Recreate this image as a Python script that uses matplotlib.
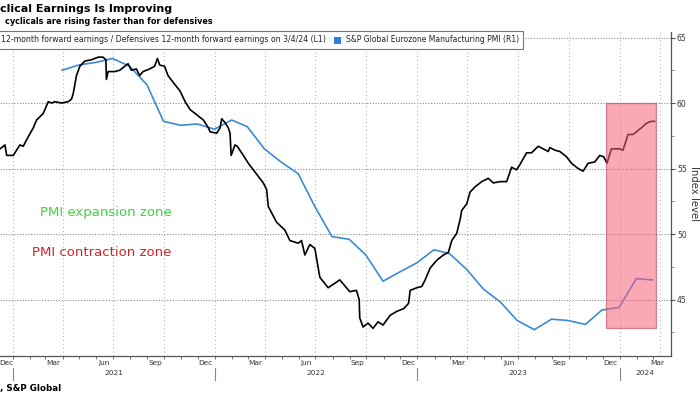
import matplotlib
matplotlib.use("Agg")
import matplotlib.pyplot as plt
import matplotlib.dates as mdates
import matplotlib.transforms as mtrans
from matplotlib.patches import Rectangle
import pandas as pd

plt.rcParams['font.family'] = ['DejaVu Sans']

######## Data
# cyclicals / defensives 12m fwd earnings (L1) in right-axis units
ratio_dates = [
    '2020-12-09', '2020-12-18', '2020-12-21', '2021-01-02', '2021-01-14', '2021-01-20',
    '2021-01-26', '2021-02-07', '2021-02-13', '2021-02-25', '2021-03-06', '2021-03-12',
    '2021-03-18', '2021-03-30', '2021-04-11', '2021-04-17', '2021-04-20', '2021-04-26',
    '2021-05-02', '2021-05-11', '2021-05-23', '2021-06-04', '2021-06-13', '2021-06-18',
    '2021-06-19', '2021-06-22', '2021-07-04', '2021-07-13', '2021-07-22', '2021-07-28',
    '2021-08-03', '2021-08-12', '2021-08-18', '2021-08-24', '2021-09-05', '2021-09-14',
    '2021-09-19', '2021-09-23', '2021-10-02', '2021-10-08', '2021-10-17', '2021-10-30',
    '2021-11-08', '2021-11-17', '2021-11-29', '2021-12-11', '2021-12-20', '2021-12-23',
    '2022-01-04', '2022-01-10', '2022-01-13', '2022-01-19', '2022-01-25', '2022-01-28',
    '2022-01-30', '2022-02-06', '2022-02-10', '2022-02-21', '2022-03-02', '2022-03-11',
    '2022-03-20', '2022-03-29', '2022-04-04', '2022-04-07', '2022-04-22', '2022-05-07',
    '2022-05-16', '2022-05-31', '2022-06-06', '2022-06-12', '2022-06-21', '2022-06-30',
    '2022-07-09', '2022-07-24', '2022-08-14', '2022-08-26', '2022-09-01', '2022-09-13',
    '2022-09-18', '2022-09-19', '2022-09-25', '2022-10-04', '2022-10-13', '2022-10-22',
    '2022-10-31', '2022-11-13', '2022-11-25', '2022-12-07', '2022-12-16', '2022-12-19',
    '2022-12-31', '2023-01-09', '2023-01-15', '2023-01-24', '2023-02-05', '2023-02-17',
    '2023-02-26', '2023-03-04', '2023-03-13', '2023-03-19', '2023-03-22', '2023-03-31',
    '2023-04-06', '2023-04-15', '2023-04-27', '2023-05-09', '2023-05-18', '2023-05-30',
    '2023-06-11', '2023-06-20', '2023-06-29', '2023-07-05', '2023-07-17', '2023-07-26',
    '2023-08-07', '2023-08-16', '2023-08-25', '2023-08-28', '2023-09-06', '2023-09-15',
    '2023-09-27', '2023-10-06', '2023-10-18', '2023-10-27', '2023-11-05', '2023-11-17',
    '2023-11-26', '2023-12-03', '2023-12-09', '2023-12-17', '2024-01-01', '2024-01-07',
    '2024-01-16', '2024-01-25', '2024-01-31', '2024-02-09', '2024-02-18', '2024-02-27',
    '2024-03-04',
]
ratio_vals = [
    56.5, 56.8, 56.0, 56.0, 56.8, 56.7,
    57.2, 58.1, 58.7, 59.2, 60.1, 60.0,
    60.1, 60.0, 60.1, 60.3, 60.7, 62.1,
    62.8, 63.2, 63.3, 63.5, 63.5, 63.3,
    61.8, 62.4, 62.4, 62.5, 62.8, 63.0,
    62.5, 62.6, 62.1, 62.4, 62.6, 62.8,
    63.4, 62.9, 62.8, 62.1, 61.6, 60.9,
    60.1, 59.5, 59.1, 58.7, 58.1, 57.8,
    57.7, 58.1, 58.8, 58.5, 58.1, 57.7,
    56.0, 56.8, 56.7, 56.0, 55.4, 54.9,
    54.4, 53.9, 53.4, 52.1, 50.9, 50.3,
    49.5, 49.3, 49.5, 48.4, 49.2, 48.9,
    46.7, 45.9, 46.5, 45.9, 45.6, 45.7,
    45.0, 43.6, 42.9, 43.2, 42.8, 43.3,
    43.05, 43.8, 44.1, 44.3, 44.7, 45.7,
    45.9, 46.0, 46.5, 47.4, 48.0, 48.4,
    48.6, 49.5, 50.05, 51.1, 51.8, 52.3,
    53.2, 53.6, 54.0, 54.25, 53.9, 54.0,
    54.0, 55.1, 54.9, 55.3, 56.2, 56.2,
    56.7, 56.5, 56.3, 56.6, 56.4, 56.3,
    55.9, 55.4, 55.0, 54.8, 55.4, 55.5,
    56.0, 55.9, 55.4, 56.5, 56.5, 56.4,
    57.6, 57.6, 57.8, 58.1, 58.45, 58.6,
    58.6,
]

# S&P Global Eurozone Manufacturing PMI (R1), month ends Mar 2021 - Feb 2024
pmi_dates = pd.date_range('2021-03-31', periods=36, freq='ME')
pmi_vals = [
    62.5, 62.9, 63.1, 63.4, 62.8, 61.4, 58.6, 58.3, 58.4, 58.0,
    58.7, 58.2, 56.5, 55.5, 54.6, 52.1, 49.8, 49.6, 48.4, 46.4, 47.1, 47.8,
    48.8, 48.5, 47.3, 45.8, 44.8, 43.4, 42.7, 43.5, 43.4, 43.1, 44.2, 44.4,
    46.6, 46.5,
]

month_labels = ['Dec', 'Mar', 'Jun', 'Sep', 'Dec', 'Mar', 'Jun', 'Sep',
                'Dec', 'Mar', 'Jun', 'Sep', 'Dec', 'Mar']
month_label_dates = ['2020-12-21', '2021-03-15', '2021-06-15', '2021-09-15',
                     '2021-12-15', '2022-03-15', '2022-06-15', '2022-09-15',
                     '2022-12-15', '2023-03-15', '2023-06-15', '2023-09-15',
                     '2023-12-15', '2024-03-08']
year_labels = ['2021', '2022', '2023', '2024']
year_label_dates = ['2021-07-02', '2022-07-02', '2023-07-02', '2024-02-16']
year_breaks = ['2021-01-01', '2022-01-01', '2023-01-01', '2024-01-01']

hl_start, hl_end = '2023-12-08', '2024-03-07'
hl_low, hl_high = 42.85, 60

######## Plot
fig = plt.figure(figsize=(7, 3.94), dpi=100)
ax = fig.add_axes([0, 38 / 394, 670.7 / 700, 324 / 394])
ax.set_xlim(pd.Timestamp('2020-12-09'), pd.Timestamp('2024-04-02'))
ax.set_ylim(40.69, 65.42)

for s in ['top', 'left']:
    ax.spines[s].set_visible(False)
for s in ['right', 'bottom']:
    ax.spines[s].set_color('#555555')
    ax.spines[s].set_linewidth(0.9)

# grid
for v in [45, 50, 55, 60, 65]:
    ax.axhline(v, color='#8a8a8a', lw=0.8, ls=(0, (1, 1.5)), zorder=1)
vgrid = list(pd.date_range('2021-01-01', '2024-01-01', freq='QS')) + [pd.Timestamp('2024-03-14')]
for d in vgrid:
    ax.axvline(d, color='#a8a8a8', lw=0.7, ls=(0, (1, 3)), zorder=1)

ax.plot(pmi_dates, pmi_vals, color='#3b8bd4', lw=1.2, zorder=3)
ax.plot(pd.to_datetime(ratio_dates), ratio_vals, color='black', lw=1.2, zorder=3)

x0 = mdates.date2num(pd.Timestamp(hl_start))
x1 = mdates.date2num(pd.Timestamp(hl_end))
ax.add_patch(Rectangle((x0, hl_low), x1 - x0, hl_high - hl_low, facecolor='#f7607a',
                       edgecolor='#b03a4a', alpha=0.55, lw=0.9, zorder=4))

# right axis
ax.yaxis.tick_right()
ax.set_yticks([45, 50, 55, 60, 65])
ax.set_yticks([42.5, 47.5, 52.5, 57.5, 62.5], minor=True)
ax.tick_params(axis='y', which='major', length=3, width=0.8, color='#555555',
               labelsize=5.5, labelcolor='#333333', pad=1.5)
ax.tick_params(axis='y', which='minor', length=2, width=0.6, color='#777777')

# bottom axis
ax.set_xticks(pd.to_datetime(month_label_dates))
ax.set_xticklabels(month_labels)
ax.set_xticks(pd.date_range('2021-01-01', '2024-03-01', freq='MS'), minor=True)
ax.tick_params(axis='x', which='major', length=0, labelsize=5.3, labelcolor='#333333', pad=3)
ax.tick_params(axis='x', which='minor', length=2.5, width=0.6, color='#555555')

trans = mtrans.blended_transform_factory(ax.transData, ax.transAxes)
for d in year_breaks:
    xd = mdates.date2num(pd.Timestamp(d))
    ax.plot([xd, xd], [-0.037, -0.075], transform=trans, color='#888888', lw=0.8, clip_on=False)
for lab, d in zip(year_labels, year_label_dates):
    ax.text(mdates.date2num(pd.Timestamp(d)), -0.053, lab, transform=trans,
            ha='center', va='center', fontsize=5.3, color='#333333')

ax.text(0.0596, 0.444, 'PMI expansion zone', transform=ax.transAxes, color='#3fd23f',
        fontsize=9.5, va='center')
ax.text(0.0477, 0.318, 'PMI contraction zone', transform=ax.transAxes, color='#d0242c',
        fontsize=9.5, va='center')

fig.text(694 / 700, 1 - 193 / 394, 'Index level', rotation=270, fontsize=7.3,
         ha='center', va='center', color='#333333')

# titles
fig.text(0, 1 - 8.5 / 394, 'clical Earnings Is Improving', fontweight='bold',
         fontsize=8, va='center')
fig.text(5 / 700, 1 - 21 / 394, 'cyclicals are rising faster than for defensives',
         fontweight='bold', fontsize=5.9, va='center')
fig.text(0, 1 - 388 / 394, ', S&P Global', fontweight='bold', fontsize=6.3, va='center')

# legend box
fig.patches.append(Rectangle((-5 / 700, 1 - 49 / 394), 528 / 700, 18 / 394,
                             transform=fig.transFigure, facecolor='white',
                             edgecolor='#777777', lw=0.8, zorder=2))
fig.text(1 / 700, 1 - 40 / 394,
         '12-month forward earnings / Defensives 12-month forward earnings on 3/4/24 (L1)',
         fontsize=5.6, va='center', color='#222222', zorder=3)
fig.patches.append(Rectangle((334 / 700, 1 - 43.5 / 394), 7 / 700, 7 / 394,
                             transform=fig.transFigure, facecolor='#2f7fe0',
                             edgecolor='none', zorder=3))
fig.text(346 / 700, 1 - 40 / 394, 'S&P Global Eurozone Manufacturing PMI (R1)',
         fontsize=5.5, va='center', color='#222222', zorder=3)

fig.savefig('out.png', dpi=100)
